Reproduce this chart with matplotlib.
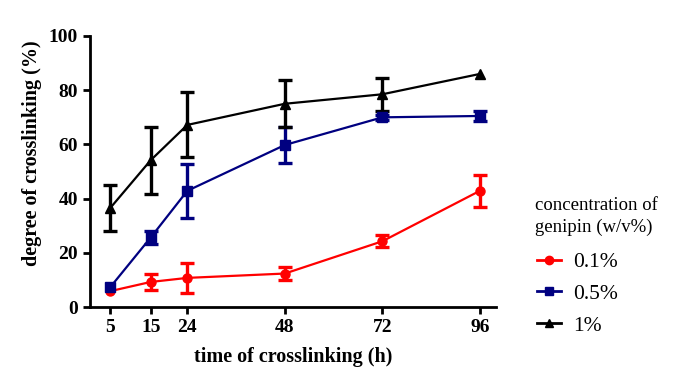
import matplotlib
matplotlib.use("Agg")
import matplotlib.pyplot as plt
from matplotlib.lines import Line2D

nan = float("nan")

# time points (h)
hours = [5, 15, 24, 48, 72, 96]

# degree of crosslinking (%) and error (SD); nan = bar hidden by marker
low_mean = [5.9, 9.3, 10.8, 12.4, 24.3, 42.9]
low_err = [nan, 3.0, 5.5, 2.5, 2.2, 6.0]
mid_mean = [7.3, 25.7, 42.9, 59.8, 70.0, 70.5]
mid_err = [nan, 2.5, 10.0, 6.7, 1.0, 2.0]
high_mean = [36.5, 54.2, 67.2, 75.0, 78.5, 86.0]
high_err = [8.5, 12.3, 12.0, 8.6, 6.0, nan]

labels = ["0.1%", "0.5%", "1%"]
colors = ["#ff0000", "#000080", "#000000"]
markers = ["o", "s", "^"]

plt.rcParams["font.family"] = ["Liberation Serif", "DejaVu Serif"]

fig = plt.figure(figsize=(6.75, 3.67), dpi=100)
ax = fig.add_axes([0.133, 0.163, 0.602, 0.739])

series = [(low_mean, low_err), (mid_mean, mid_err), (high_mean, high_err)]
handles = []
for (m, e), lab, c, mk in zip(series, labels, colors, markers):
    ax.errorbar(hours, m, yerr=e, color=c, marker=mk, markersize=6.5,
                linewidth=1.6, elinewidth=2.4, capsize=5, capthick=2.4)
    handles.append(Line2D([], [], color=c, marker=mk, markersize=6,
                          linewidth=2, label=lab))

ax.set_xlim(0, 100)
ax.set_ylim(0, 100)
ax.set_xticks(hours)
ax.set_yticks([0, 20, 40, 60, 80, 100])
for s in ["top", "right"]:
    ax.spines[s].set_visible(False)
for s in ["left", "bottom"]:
    ax.spines[s].set_linewidth(2)
ax.tick_params(width=2, length=5, labelsize=14, direction="out")
for t in ax.get_xticklabels() + ax.get_yticklabels():
    t.set_fontweight("bold")

ax.set_xlabel("time of crosslinking (h)", fontsize=14.5, fontweight="bold",
              labelpad=8)
ax.set_ylabel("degree of crosslinking (%)", fontsize=14.5, fontweight="bold")
ax.yaxis.set_label_coords(-0.118, 0.568)

# legend title drawn separately so the gap to the entries matches
fig.text(0.793, 0.462, "concentration of\ngenipin (w/v%)", fontsize=13.5,
         ha="left", va="top", linespacing=1.3)
leg = fig.legend(handles=handles, loc="upper left",
                 bbox_to_anchor=(0.796, 1 - 252 / 367), frameon=False,
                 fontsize=15.5, handlelength=1.1, handletextpad=0.55,
                 labelspacing=0.55, borderaxespad=0, borderpad=0)

fig.savefig("out.png", dpi=100)
